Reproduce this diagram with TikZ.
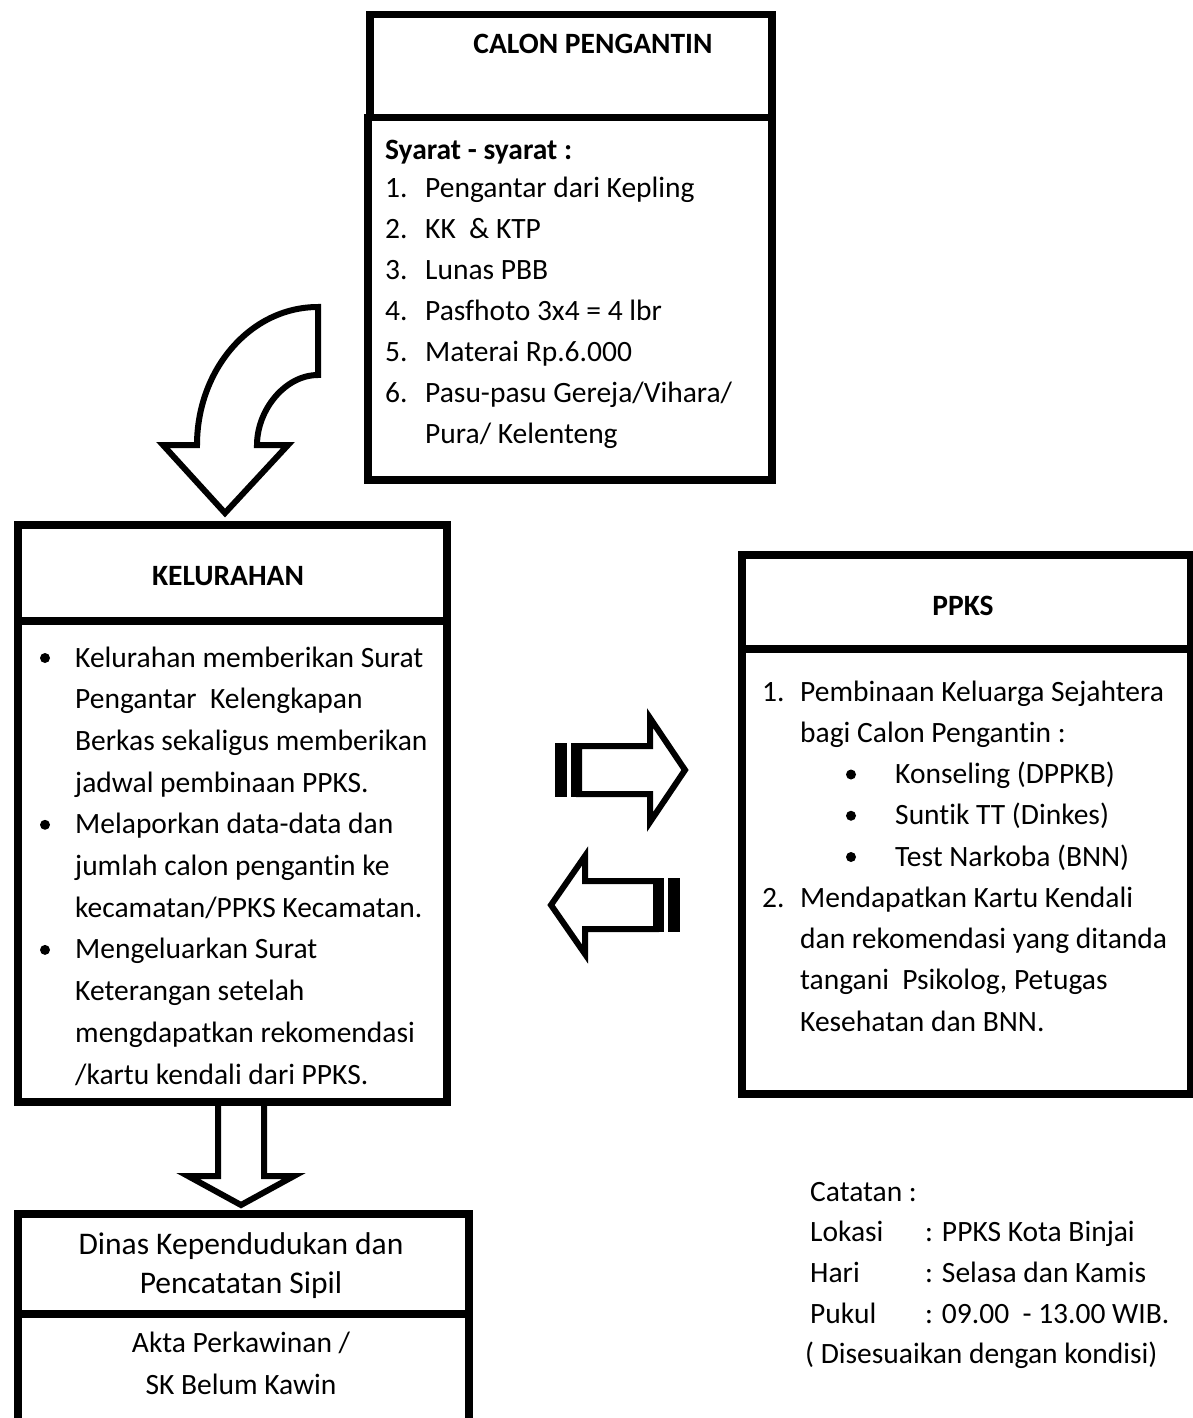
\documentclass[tikz,border=0pt]{standalone}
\usepackage{fontspec}
\setmainfont{Carlito}[Ligatures={NoCommon}]
\usetikzlibrary{calc}
\newcommand\txtsize{\fontsize{29.5}{35}\selectfont}
\newcommand\headsize{\fontsize{31.5}{38}\selectfont}

\begin{document}
\begin{tikzpicture}[x=1pt,y=-1pt,
  frame/.style={draw, line width=7.5pt, rectangle, inner sep=0pt, anchor=north west},
  txt/.style={inner sep=0pt, anchor=base west, font=\txtsize},
  ctxt/.style={inner sep=0pt, anchor=base, font=\txtsize},
  htxt/.style={inner sep=0pt, anchor=base, font=\headsize},
  bullet/.style={circle, fill=black, inner sep=0pt, minimum size=10pt},
  blockarrow/.style={draw, line width=6pt, fill=white, line join=miter, miter limit=10},
  stripe/.style={fill=black, draw=none}]

\useasboundingbox (0,0) rectangle (1193,1418);
\fill[white] (0,0) rectangle (1193,1418);
\clip (0,0) rectangle (1193,1418);

% ---------- block arrows ----------
% curved arrow from the requirements box down to the Kelurahan box
\draw[blockarrow] (318,307) .. controls (250,307) and (197,370) .. (197,445)
  -- (163,445) -- (225,513) -- (288,445) -- (257,445)
  .. controls (257,410) and (285,375) .. (318,375) -- cycle;

% striped arrow to PPKS
\fill[stripe] (555,743) rectangle (567,797);
\fill[stripe] (571,743) rectangle (580,797);
\draw[blockarrow] (579,746) -- (650,746) -- (650,718) -- (685,770)
  -- (650,822) -- (650,794) -- (579,794) -- cycle;

% striped arrow back to Kelurahan
\fill[stripe] (655,878) rectangle (664,932);
\fill[stripe] (668,878) rectangle (680,932);
\draw[blockarrow] (656,881) -- (585,881) -- (585,856) -- (551,905)
  -- (585,954) -- (585,929) -- (656,929) -- cycle;

% straight arrow down to Dinas
\draw[blockarrow] (218,1098) -- (218,1176) -- (188,1176) -- (241,1205)
  -- (294,1176) -- (264,1176) -- (264,1098);

% ---------- CALON PENGANTIN ----------
\node[frame, minimum width=402pt, minimum height=103pt] (calonHead) at (366,11) {};
\node[frame, minimum width=404pt, minimum height=362pt] (calonBody) at (364,114) {};
\node[ctxt, font=\txtsize\bfseries] (calonTitle) at (593,54) {CALON PENGANTIN};
\node[txt, font=\txtsize\bfseries] (syarat) at (385,159) {Syarat - syarat :};
\foreach \t [count=\i] in {{Pengantar dari Kepling},{KK\ \ \& KTP},{Lunas PBB},
    {Pasfhoto 3x4 = 4 lbr},{Materai Rp.6.000},{Pasu-pasu Gereja/Vihara/}} {
  \node[txt] (cn\i) at (385,{197+41*(\i-1)}) {\i.};
  \node[txt] (ct\i) at (425,{197+41*(\i-1)}) {\t};
}
\node[txt] (ct7) at (425,443) {Pura/ Kelenteng};

% ---------- KELURAHAN ----------
\node[frame, minimum width=429pt, minimum height=96pt] (kelHead) at (14,521) {};
\node[frame, minimum width=429pt, minimum height=481pt] (kelBody) at (14,617) {};
\node[ctxt, font=\txtsize\bfseries] (kelTitle) at (228,585) {KELURAHAN};
\foreach \t [count=\i from 0] in {{Kelurahan memberikan Surat},{Pengantar\ \ Kelengkapan},
    {Berkas sekaligus memberikan},{jadwal pembinaan PPKS.},{Melaporkan data-data dan},
    {jumlah calon pengantin ke},{kecamatan/PPKS Kecamatan.},{Mengeluarkan Surat},
    {Keterangan setelah},{mengdapatkan rekomendasi},{/kartu kendali dari PPKS.}} {
  \node[txt] (kt\i) at (75,{667+41.7*\i}) {\t};
}
\foreach \i in {0,4,7} {
  \node[bullet] (kb\i) at (45,{658+41.7*\i}) {};
}

% ---------- PPKS ----------
\node[frame, minimum width=449pt, minimum height=94pt] (ppksHead) at (738,551) {};
\node[frame, minimum width=449pt, minimum height=445pt] (ppksBody) at (738,645) {};
\node[ctxt, font=\txtsize\bfseries] (ppksTitle) at (963,615) {PPKS};
\node[txt] (pn1) at (762,701) {1.};
\node[txt] (pt0) at (800,701) {Pembinaan Keluarga Sejahtera};
\node[txt] (pt1) at (800,742.25) {bagi Calon Pengantin :};
\foreach \t [count=\i from 2] in {{Konseling (DPPKB)},{Suntik TT (Dinkes)},{Test Narkoba (BNN)}} {
  \node[bullet] (pb\i) at (851,{692+41.25*\i}) {};
  \node[txt] (pt\i) at (895,{701+41.25*\i}) {\t};
}
\node[txt] (pn2) at (762,907.25) {2.};
\foreach \t [count=\i from 5] in {{Mendapatkan Kartu Kendali},{dan rekomendasi yang ditanda},
    {tangani\ \ Psikolog, Petugas},{Kesehatan dan BNN.}} {
  \node[txt] (pt\i) at (800,{701+41.25*\i}) {\t};
}

% ---------- Dinas Kependudukan dan Pencatatan Sipil ----------
\node[frame, minimum width=451pt, minimum height=100pt] (dinasHead) at (14,1210) {};
\node[frame, minimum width=451pt, minimum height=160pt] (dinasBody) at (14,1310) {};
\node[htxt] (dinas1) at (241,1254) {Dinas Kependudukan dan};
\node[htxt] (dinas2) at (241,1293) {Pencatatan Sipil};
\node[ctxt] (akta1) at (241,1352) {Akta Perkawinan /};
\node[ctxt] (akta2) at (241,1394) {SK Belum Kawin};

% ---------- Catatan ----------
\node[txt] (cat0) at (810,1201) {Catatan :};
\node[txt] (cat1) at (810,1241) {Lokasi};
\node[txt] (cat1v) at (925,1241) {: PPKS Kota Binjai};
\node[txt] (cat2) at (810,1282) {Hari};
\node[txt] (cat2v) at (925,1282) {: Selasa dan Kamis};
\node[txt] (cat3) at (810,1323) {Pukul};
\node[txt] (cat3v) at (925,1323) {: 09.00\ \ - 13.00 WIB.};
\node[txt] (cat4) at (805,1363) {( Disesuaikan dengan kondisi)};

\end{tikzpicture}
\end{document}
